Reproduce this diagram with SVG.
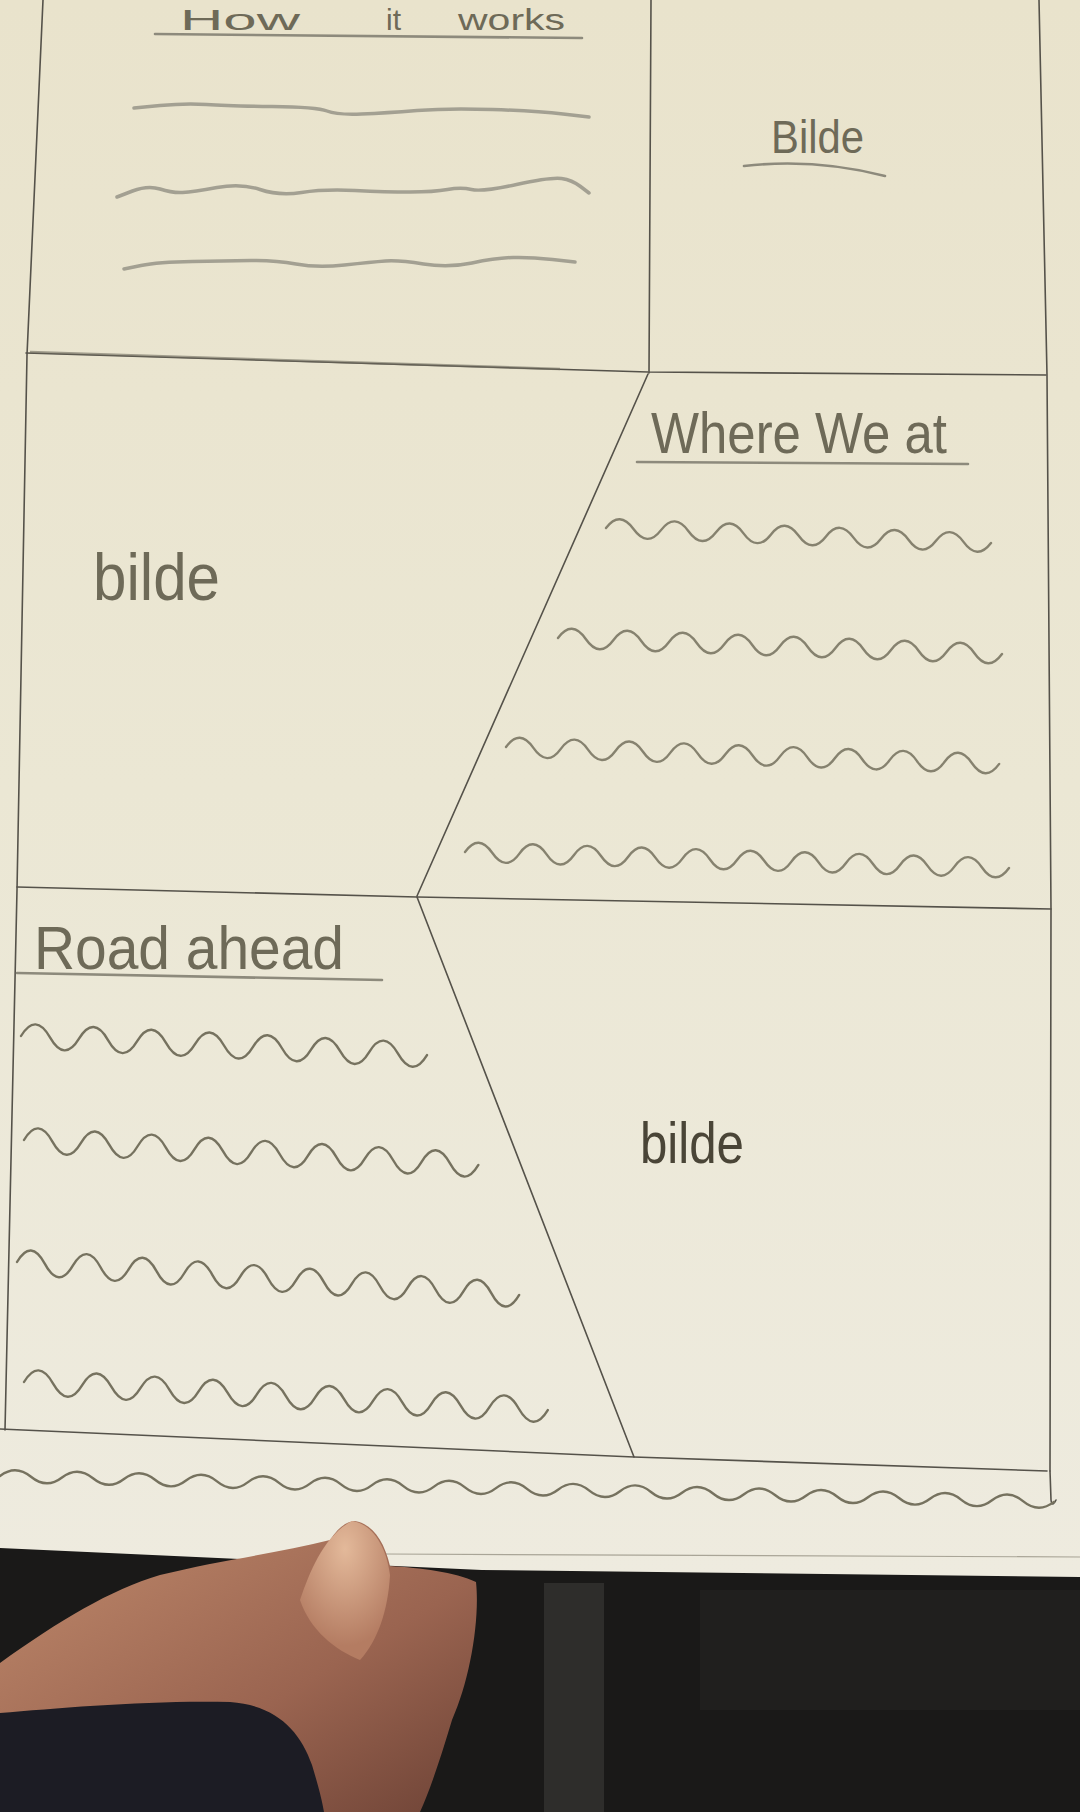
<svg xmlns="http://www.w3.org/2000/svg" width="1080" height="1812" viewBox="0 0 1080 1812">
  <defs>
    <linearGradient id="paperGrad" x1="0" y1="0" x2="0" y2="1">
      <stop offset="0" stop-color="#e9e3cc"/>
      <stop offset="0.5" stop-color="#ebe7d4"/>
      <stop offset="1" stop-color="#eeebdf"/>
    </linearGradient>
    <linearGradient id="skinGrad" x1="0" y1="0" x2="1" y2="1">
      <stop offset="0" stop-color="#c08a6c"/>
      <stop offset="0.6" stop-color="#9a6450"/>
      <stop offset="1" stop-color="#6e4336"/>
    </linearGradient>
    <radialGradient id="thumbGrad" cx="0.5" cy="0.2" r="0.7">
      <stop offset="0" stop-color="#e3b99a"/>
      <stop offset="1" stop-color="#b47c62"/>
    </radialGradient>
    <style>
      .frame { fill: none; stroke: #55524a; stroke-width: 1.6; stroke-linejoin: round; stroke-linecap: round; }
      .soft { fill: none; stroke: #a3a092; stroke-width: 3.5; stroke-linecap: round; stroke-linejoin: round; }
      .wave { fill: none; stroke: #86826f; stroke-width: 2.4; stroke-linecap: round; stroke-linejoin: round; }
      .wave2 { fill: none; stroke: #76725f; stroke-width: 2.4; stroke-linecap: round; stroke-linejoin: round; }
      .uline { fill: none; stroke: #8d8a7c; stroke-width: 2.6; stroke-linecap: round; }
      .hand { font-family: "Liberation Sans", "DejaVu Sans", sans-serif; fill: #6e6a58; }
    </style>
  </defs>

  <!-- background (photo) -->
  <rect x="0" y="0" width="1080" height="1812" fill="#1a1918"/>
  <rect x="544" y="1583" width="60" height="229" fill="#2e2d2b"/>
  <rect x="700" y="1590" width="380" height="120" fill="#201f1e"/>

  <!-- paper -->
  <path d="M0,0 H1080 V1577 L482,1570 L0,1548 Z" fill="url(#paperGrad)"/>
  <path d="M385,1554 L1080,1557" stroke="#a9a597" stroke-width="1.2" fill="none"/>

  <!-- frame lines -->
  <g id="connectors">
    <polyline class="frame" points="43,0 27,355 17,890 5,1430"/>
    <polyline class="frame" points="1039,0 1047,375 1051,909 1050,1471"/>
    <path class="frame" d="M1050,1471 L1051,1500 Q1052,1508 1056,1500"/>
    <polyline class="frame" points="26,353 648,372 1046,375"/>
    <path d="M30,352 L560,369" stroke="#6e6a5e" stroke-width="2.6" fill="none" opacity="0.6"/>
    <line class="frame" x1="651" y1="0" x2="649" y2="373"/>
    <line class="frame" x1="648" y1="374" x2="417" y2="896"/>
    <polyline class="frame" points="17,887 417,897 1051,909"/>
    <line class="frame" x1="417" y1="897" x2="634" y2="1457"/>
    <polyline class="frame" points="0,1429 634,1457 1047,1471"/>
  </g>

  <!-- How it works panel -->
  <g id="how-it-works">
    <text class="hand" y="30" font-size="30"><tspan x="180" textLength="120" lengthAdjust="spacingAndGlyphs">How</tspan> <tspan x="386">it</tspan> <tspan x="458" textLength="107" lengthAdjust="spacingAndGlyphs">works</tspan></text>
    <line class="uline" x1="155" y1="34" x2="582" y2="38" stroke-width="3.2"/>
    <path class="soft" d="M134,108 L160,105.5 Q186,103 206.5,104.5 Q227,106 272,106.5 Q317,107 327,111 Q337,115 361.5,114 Q386,113 417,110.5 Q448,108 492.5,109.5 Q537,111 563,114 L589,117"/>
    <path class="soft" d="M117,197 L132.5,191 Q148,185 160,189 Q172,193 182.5,192.5 Q193,192 217,187.5 Q241,183 260,189.5 Q279,196 301.5,192.5 Q324,189 355,190.5 Q386,192 410,192 Q434,192 447.5,189.5 Q461,187 471.5,189.5 Q482,192 516.5,184.5 Q551,177 561.5,178.5 Q572,180 580.5,186.5 L589,193"/>
    <path class="soft" d="M124,269 L141,265.5 Q158,262 192.5,261.5 Q227,261 251,260.5 Q275,260 296,264 Q317,268 344.5,265 Q372,262 385.5,261 Q399,260 423.5,264 Q448,268 472,263 Q496,258 513,257.5 Q530,257 552.5,259.5 L575,262"/>
  </g>

  <!-- top right image placeholder -->
  <g id="bilde-top">
    <text class="hand" x="771" y="153" font-size="46" textLength="93" lengthAdjust="spacingAndGlyphs">Bilde</text>
    <path class="uline" d="M744,166 Q815,158 885,176" stroke-width="1.6"/>
  </g>

  <!-- middle left image placeholder -->
  <g id="bilde-left">
    <text class="hand" x="93" y="600" font-size="66" textLength="127" lengthAdjust="spacingAndGlyphs">bilde</text>
  </g>

  <!-- Where We at panel -->
  <g id="where-we-at">
    <text class="hand" x="651" y="453" font-size="58" textLength="296" lengthAdjust="spacingAndGlyphs">Where We at</text>
    <line class="uline" x1="637" y1="462" x2="968" y2="464"/>
    <path class="wave" d="M606,528 q13.75,-18 27.5,1.07 t27.5,1.07 t27.5,1.07 t27.5,1.07 t27.5,1.07 t27.5,1.07 t27.5,1.07 t27.5,1.07 t27.5,1.07 t27.5,1.07 t27.5,1.07 t27.5,1.07 t27.5,1.07 t27.5,1.07"/>
    <path class="wave" d="M558,638 q13.9,-19 27.75,1 t27.75,1 t27.75,1 t27.75,1 t27.75,1 t27.75,1 t27.75,1 t27.75,1 t27.75,1 t27.75,1 t27.75,1 t27.75,1 t27.75,1 t27.75,1 t27.75,1 t27.75,1"/>
    <path class="wave" d="M506,747 q13.7,-19 27.4,0.94 t27.4,0.94 t27.4,0.94 t27.4,0.94 t27.4,0.94 t27.4,0.94 t27.4,0.94 t27.4,0.94 t27.4,0.94 t27.4,0.94 t27.4,0.94 t27.4,0.94 t27.4,0.94 t27.4,0.94 t27.4,0.94 t27.4,0.94 t27.4,0.94 t27.4,0.94"/>
    <path class="wave" d="M465,852 q13.6,-19 27.2,0.8 t27.2,0.8 t27.2,0.8 t27.2,0.8 t27.2,0.8 t27.2,0.8 t27.2,0.8 t27.2,0.8 t27.2,0.8 t27.2,0.8 t27.2,0.8 t27.2,0.8 t27.2,0.8 t27.2,0.8 t27.2,0.8 t27.2,0.8 t27.2,0.8 t27.2,0.8 t27.2,0.8 t27.2,0.8"/>
  </g>

  <!-- Road ahead panel -->
  <g id="road-ahead">
    <text class="hand" x="34" y="969" font-size="62" textLength="310" lengthAdjust="spacingAndGlyphs">Road ahead</text>
    <line class="uline" x1="17" y1="973" x2="382" y2="980"/>
    <path class="wave2" d="M21,1036 q14.5,-24 29,1.36 t29,1.36 t29,1.36 t29,1.36 t29,1.36 t29,1.36 t29,1.36 t29,1.36 t29,1.36 t29,1.36 t29,1.36 t29,1.36 t29,1.36 t29,1.36"/>
    <path class="wave2" d="M24,1140 q14.2,-24 28.4,1.56 t28.4,1.56 t28.4,1.56 t28.4,1.56 t28.4,1.56 t28.4,1.56 t28.4,1.56 t28.4,1.56 t28.4,1.56 t28.4,1.56 t28.4,1.56 t28.4,1.56 t28.4,1.56 t28.4,1.56 t28.4,1.56 t28.4,1.56"/>
    <path class="wave2" d="M17,1262 q14,-24 27.9,1.83 t27.9,1.83 t27.9,1.83 t27.9,1.83 t27.9,1.83 t27.9,1.83 t27.9,1.83 t27.9,1.83 t27.9,1.83 t27.9,1.83 t27.9,1.83 t27.9,1.83 t27.9,1.83 t27.9,1.83 t27.9,1.83 t27.9,1.83 t27.9,1.83 t27.9,1.83"/>
    <path class="wave2" d="M24,1382 q14.5,-24 29.1,1.56 t29.1,1.56 t29.1,1.56 t29.1,1.56 t29.1,1.56 t29.1,1.56 t29.1,1.56 t29.1,1.56 t29.1,1.56 t29.1,1.56 t29.1,1.56 t29.1,1.56 t29.1,1.56 t29.1,1.56 t29.1,1.56 t29.1,1.56 t29.1,1.56 t29.1,1.56"/>
  </g>

  <!-- lower right image placeholder -->
  <g id="bilde-right">
    <text class="hand" x="640" y="1163" font-size="58" textLength="104" lengthAdjust="spacingAndGlyphs" style="fill:#4a4537">bilde</text>
  </g>

  <!-- footer wave -->
  <g id="footer">
    <path class="wave2" d="M0,1476 q15.5,-12 31,0.76 t31,0.76 t31,0.76 t31,0.76 t31,0.76 t31,0.76 t31,0.76 t31,0.76 t31,0.76 t31,0.76 t31,0.76 t31,0.76 t31,0.76 t31,0.76 t31,0.76 t31,0.76 t31,0.76 t31,0.76 t31,0.76 t31,0.76 t31,0.76 t31,0.76 t31,0.76 t31,0.76 t31,0.76 t31,0.76 t31,0.76 t31,0.76 t31,0.76 t31,0.76 t31,0.76 t31,0.76 t31,0.76 t31,0.76"/>
  </g>

  <!-- hand holding the sheet -->
  <g id="hand">
    <path d="M0,1663 C60,1620 110,1590 160,1575 C220,1560 280,1553 330,1540 C338,1528 345,1522 355,1521 C372,1524 384,1540 390,1566 C420,1568 455,1572 476,1582 C480,1620 470,1680 452,1720 C440,1760 430,1790 420,1812 L0,1812 Z" fill="url(#skinGrad)"/>
    <path d="M300,1600 C310,1570 325,1535 352,1521 C372,1524 386,1545 390,1575 C388,1610 378,1640 360,1660 C335,1650 310,1630 300,1600 Z" fill="url(#thumbGrad)"/>
    <path d="M0,1713 C60,1708 150,1700 230,1702 C275,1705 300,1730 312,1765 C318,1785 322,1800 324,1812 L0,1812 Z" fill="#1c1c24"/>
  </g>
</svg>
